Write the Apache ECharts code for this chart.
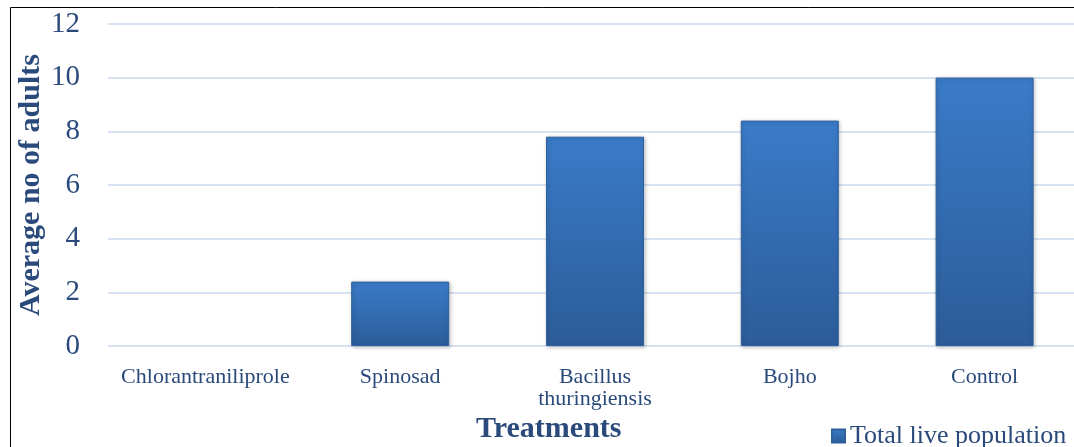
<!DOCTYPE html>
<html>
<head>
<meta charset="utf-8">
<script src="https://cdn.jsdelivr.net/npm/echarts@6/dist/echarts.min.js"></script>
<style>
  html, body { margin: 0; padding: 0; background: #fff; }
  #chart { width: 1074px; height: 447px; }
</style>
</head>
<body>
<div id="chart"></div>
<script>
  // data
  const treatments = ['Chlorantraniliprole', 'Spinosad', 'Bacillus\nthuringiensis', 'Bojho', 'Control'];
  const liveCounts = [0, 2.4, 7.8, 8.4, 10];
  const seriesName = 'Total live population';

  const textBlue = '#2a4a7b';
  const serif = '"Liberation Serif", "DejaVu Serif", serif';

  let chart = echarts.init(document.getElementById('chart'));
  chart.setOption({
    animation: false,
    textStyle: { fontFamily: serif },
    grid: { left: 108, right: -8, top: 24, bottom: 101, outerBoundsMode: 'none' },
    graphic: [{
      type: 'rect',
      shape: { x: 10.5, y: 7.5, width: 1080, height: 460 },
      style: { fill: 'none', stroke: '#000', lineWidth: 1 },
      silent: true
    }, {
      type: 'text',
      left: 476, top: 414,
      style: { text: 'Treatments', font: 'bold 30px ' + serif, fill: textBlue }
    }],
    legend: {
      data: [{ name: seriesName, icon: 'rect' }],
      left: 826, top: 418,
      itemWidth: 13, itemHeight: 13, itemGap: 5,
      textStyle: { fontSize: 26, color: textBlue, fontFamily: serif }
    },
    xAxis: {
      type: 'category',
      data: treatments,
      axisLine: { show: false },
      axisTick: { show: false },
      axisLabel: { color: textBlue, fontSize: 22, lineHeight: 22, margin: 20, interval: 0 }
    },
    yAxis: {
      type: 'value',
      min: 0, max: 12, interval: 2,
      name: 'Average no of adults',
      nameLocation: 'middle',
      nameGap: 62,
      nameMoveOverlap: false,
      nameTextStyle: { fontSize: 30, fontWeight: 'bold', color: textBlue },
      axisLabel: { color: textBlue, fontSize: 29, margin: 28 },
      splitLine: { lineStyle: { color: '#d7e3f3', width: 2 } }
    },
    series: [{
      name: seriesName,
      type: 'bar',
      // a zero bar leaves no mark in the reference
      data: liveCounts.map(v => v === 0 ? { value: v, itemStyle: { opacity: 0 } } : v),
      barWidth: 98,
      itemStyle: {
        color: new echarts.graphic.LinearGradient(0, 0, 0, 1, [
          { offset: 0, color: '#3a7bc8' },
          { offset: 1, color: '#2c5c99' }
        ]),
        borderColor: '#2f5f9c',
        borderWidth: 1,
        shadowColor: 'rgba(0,0,0,0.25)',
        shadowBlur: 4,
        shadowOffsetX: 1,
        shadowOffsetY: 1
      }
    }]
  });
</script>
</body>
</html>
